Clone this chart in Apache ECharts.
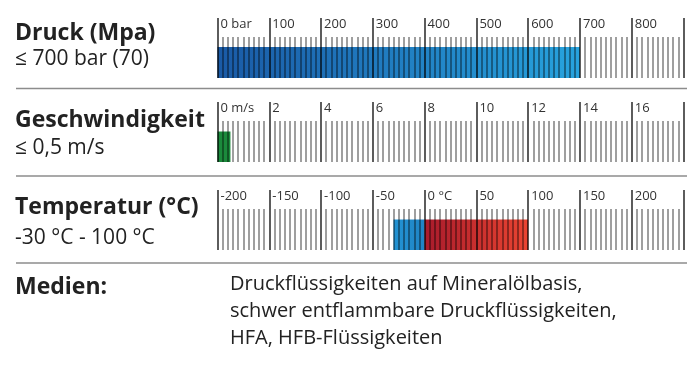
<!DOCTYPE html>
<html>
<head>
<meta charset="utf-8">
<script src="https://cdn.jsdelivr.net/npm/echarts@6/dist/echarts.min.js"></script>
<style>html,body{margin:0;padding:0;background:#fff}#c{width:700px;height:367px}</style>
</head>
<body>
<div id="c"></div>
<script>
// ---- data ----
const pressureMin = 0, pressureMax = 900, pressureStep = 100;
const pressureTicks = ['0 bar', '100', '200', '300', '400', '500', '600', '700', '800'];
const pressureValue = [700];

const speedMin = 0, speedMax = 18, speedStep = 2;
const speedTicks = ['0 m/s', '2', '4', '6', '8', '10', '12', '14', '16'];
const speedValue = [0.5];

const tempMin = -200, tempMax = 250, tempStep = 50;
const tempTicks = ['-200', '-150', '-100', '-50', '0 °C', '50', '100', '150', '200'];
const tempCold = [-30];
const tempHot = [100];

const rowTitles = ['Druck (Mpa)', 'Geschwindigkeit', 'Temperatur (°C)'];
const rowSubtitles = ['≤ 700 bar (70)', '≤ 0,5 m/s', '-30 °C - 100 °C'];
const mediaTitle = 'Medien:';
const mediaLines = ['Druckflüssigkeiten auf Mineralölbasis,', 'schwer entflammbare Druckflüssigkeiten,', 'HFA, HFB-Flüssigkeiten'];

// ---- layout ----
const FONT = '"Open Sans", "Noto Sans", sans-serif';
const gridLeft = 217.5, gridWidth = 466;
const grids = [
  { left: gridLeft, width: gridWidth, top: 47, height: 31 },
  { left: gridLeft, width: gridWidth, top: 131.5, height: 30.5 },
  { left: gridLeft, width: gridWidth, top: 219.5, height: 30.5 }
];

function grad(c0, c1) {
  return new echarts.graphic.LinearGradient(0, 0, 1, 0, [{ offset: 0, color: c0 }, { offset: 1, color: c1 }]);
}

function makeX(idx, min, max, step, labels) {
  return {
    type: 'value', gridIndex: idx, min: min, max: max, interval: step, position: 'bottom', z: 5,
    axisLine: { show: false },
    splitLine: { show: false },
    axisTick: { show: true, inside: true, length: 60, lineStyle: { color: 'rgba(0,0,0,0.8)', width: 1.6 } },
    minorTick: { show: true, splitNumber: 10, length: 41, lineStyle: { color: 'rgba(0,0,0,0.5)', width: 1.5 } },
    axisLabel: {
      inside: true, margin: 54, align: 'left', verticalAlign: 'middle', padding: [0, 0, 0, 3],
      color: '#333', fontSize: 13, fontFamily: FONT, showMaxLabel: false, showMinLabel: true,
      formatter: function (v) { const i = Math.round((v - min) / step); return labels[i] !== undefined ? labels[i] : ''; }
    }
  };
}
function makeY(idx) {
  return { type: 'category', gridIndex: idx, data: [''], show: false };
}

const graphics = [];
const titleY = [[33, 59], [120, 148], [207, 238]];
rowTitles.forEach((t, i) => {
  graphics.push({ type: 'text', style: { x: 15, y: titleY[i][0], text: t, fontSize: 23, fontWeight: 'bold', fontFamily: FONT, fill: '#222', verticalAlign: 'middle' } });
  graphics.push({ type: 'text', style: { x: 15, y: titleY[i][1], text: rowSubtitles[i], fontSize: 21, fontFamily: FONT, fill: '#222', verticalAlign: 'middle' } });
});
[88.5, 176, 263].forEach(y => {
  graphics.push({ type: 'line', shape: { x1: 16, y1: y, x2: 687, y2: y }, style: { stroke: '#8c8c8c', lineWidth: 1.5 } });
});
graphics.push({ type: 'text', style: { x: 15, y: 287, text: mediaTitle, fontSize: 23, fontWeight: 'bold', fontFamily: FONT, fill: '#222', verticalAlign: 'middle' } });
mediaLines.forEach((t, i) => {
  graphics.push({ type: 'text', style: { x: 230, y: 284 + i * 27, text: t, fontSize: 20, fontFamily: FONT, fill: '#222', verticalAlign: 'middle' } });
});

const chart = echarts.init(document.getElementById('c'));
chart.setOption({
  animation: false,
  backgroundColor: '#fff',
  grid: grids,
  xAxis: [
    makeX(0, pressureMin, pressureMax, pressureStep, pressureTicks),
    makeX(1, speedMin, speedMax, speedStep, speedTicks),
    makeX(2, tempMin, tempMax, tempStep, tempTicks)
  ],
  yAxis: [makeY(0), makeY(1), makeY(2)],
  series: [
    { type: 'bar', xAxisIndex: 0, yAxisIndex: 0, data: pressureValue, barWidth: '100%', itemStyle: { color: grad('#1a5aa6', '#27a3de') } },
    { type: 'bar', xAxisIndex: 1, yAxisIndex: 1, data: speedValue, barWidth: '100%', itemStyle: { color: '#1b8a3c' } },
    { type: 'bar', xAxisIndex: 2, yAxisIndex: 2, data: tempCold, barWidth: '100%', barGap: '-100%', itemStyle: { color: grad('#2393d3', '#1f84c5') } },
    { type: 'bar', xAxisIndex: 2, yAxisIndex: 2, data: tempHot, barWidth: '100%', barGap: '-100%', itemStyle: { color: grad('#a91b2c', '#ea4431') } }
  ],
  graphic: graphics
});
</script>
</body>
</html>
